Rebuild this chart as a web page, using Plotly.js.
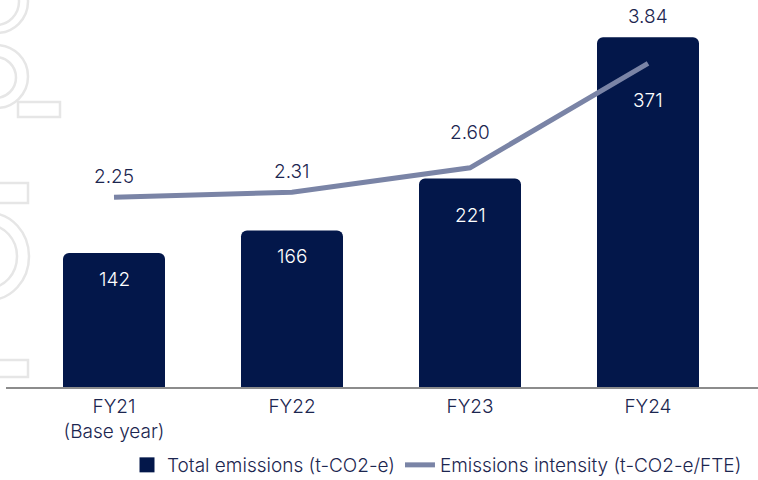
<!DOCTYPE html>
<html><head><meta charset="utf-8">
<script src="https://cdn.plot.ly/plotly-3.0.1.min.js"></script>
<style>html,body{margin:0;padding:0;background:#fff}#chart{width:758px;height:480px}</style>
</head><body><div id="chart"></div>
<script>
const categories = ['FY21<br>(Base year)', 'FY22', 'FY23', 'FY24'];
const totalEmissions = [142, 166, 221, 371];
const intensity = [2.25, 2.31, 2.60, 3.84];
const barLabelShift = [-26, -26, -37, -63];
const lineLabelShift = [21, 21, 35, 47];

const navy = '#03174a';
const lineCol = '#7a84a6';
const textCol = '#1c2650';
const FONT = 'Inter, Roboto, sans-serif';

const L = 25, R = 21, T = 30, B = 93, W = 758, H = 480;
const pw = W - L - R, ph = H - T - B;
const px = x => (x - L) / pw;
const py = y => (H - B - y) / ph;

const deco = '#e6e6e6';
function circ(x0, x1, y0, y1) {
  return {type: 'circle', xref: 'paper', yref: 'paper', x0: px(x0), x1: px(x1), y0: py(y1), y1: py(y0),
    line: {color: deco, width: 2.5}, layer: 'below'};
}
function rect(x0, x1, y0, y1) {
  return {type: 'rect', xref: 'paper', yref: 'paper', x0: px(x0), x1: px(x1), y0: py(y1), y1: py(y0),
    line: {color: deco, width: 2.5}, fillcolor: 'rgba(0,0,0,0)', layer: 'below'};
}

const shapes = [
  circ(-35, 28, -30, 33), circ(-27, 19, -22, 25),
  circ(-35, 28, 45, 108), circ(-25, 16, 57, 98),
  rect(18, 60, 102, 117),
  rect(-5, 28, 183, 203),
  circ(-50, 29, 213, 300), circ(-40, 17, 225, 288),
  rect(-5, 28, 360, 377),
  {type: 'line', xref: 'paper', yref: 'paper', x0: px(6), x1: px(758), y0: py(388), y1: py(388),
   line: {color: '#666', width: 1.5}}
];

const annotations = [];
categories.forEach((c, i) => {
  annotations.push({x: c, y: totalEmissions[i], xref: 'x', yref: 'y', text: String(totalEmissions[i]),
    showarrow: false, yshift: barLabelShift[i], font: {family: FONT, size: 19, weight: 300, color: '#ffffff'}});
  annotations.push({x: c, y: intensity[i], xref: 'x', yref: 'y2', text: intensity[i].toFixed(2),
    showarrow: false, yshift: lineLabelShift[i], font: {family: FONT, size: 19, weight: 300, color: textCol}});
});

const data = [
  {type: 'bar', x: categories, y: totalEmissions, name: 'Total emissions (t-CO2-e)', showlegend: false,
   marker: {color: navy, cornerradius: 6}, width: 0.573, hoverinfo: 'none'},
  {type: 'scatter', mode: 'markers', x: [null], y: [null], name: 'Total emissions (t-CO2-e)',
   marker: {symbol: 'square', size: 15, color: navy}, hoverinfo: 'none'},
  {type: 'scatter', mode: 'lines', x: categories, y: intensity, yaxis: 'y2',
   name: 'Emissions intensity (t-CO2-e/FTE)', line: {color: lineCol, width: 5}, hoverinfo: 'none'}
];

const layout = {
  width: W, height: H,
  margin: {l: L, r: R, t: T, b: B, autoexpand: false},
  paper_bgcolor: '#fff', plot_bgcolor: 'rgba(0,0,0,0)',
  font: {family: FONT, color: textCol, size: 19, weight: 300},
  showlegend: true,
  legend: {orientation: 'h', xref: 'container', yref: 'container', x: 437 / W, xanchor: 'center',
    y: 1 - 465 / H, yanchor: 'middle',
    font: {family: FONT, size: 19, weight: 300, color: textCol}, itemwidth: 30, traceorder: 'normal'},
  xaxis: {range: [-0.5, 3.5], showgrid: false, zeroline: false, showline: false, ticks: '',
    ticklabelstandoff: 6,
    tickfont: {family: FONT, size: 19, weight: 300, color: textCol}, fixedrange: true},
  yaxis: {range: [0, ph / 0.943], visible: false, fixedrange: true},
  yaxis2: {range: [0, ph / 84.3], overlaying: 'y', visible: false, fixedrange: true},
  shapes: shapes,
  annotations: annotations
};

Plotly.newPlot('chart', data, layout, {displayModeBar: false, staticPlot: true});
</script></body></html>
